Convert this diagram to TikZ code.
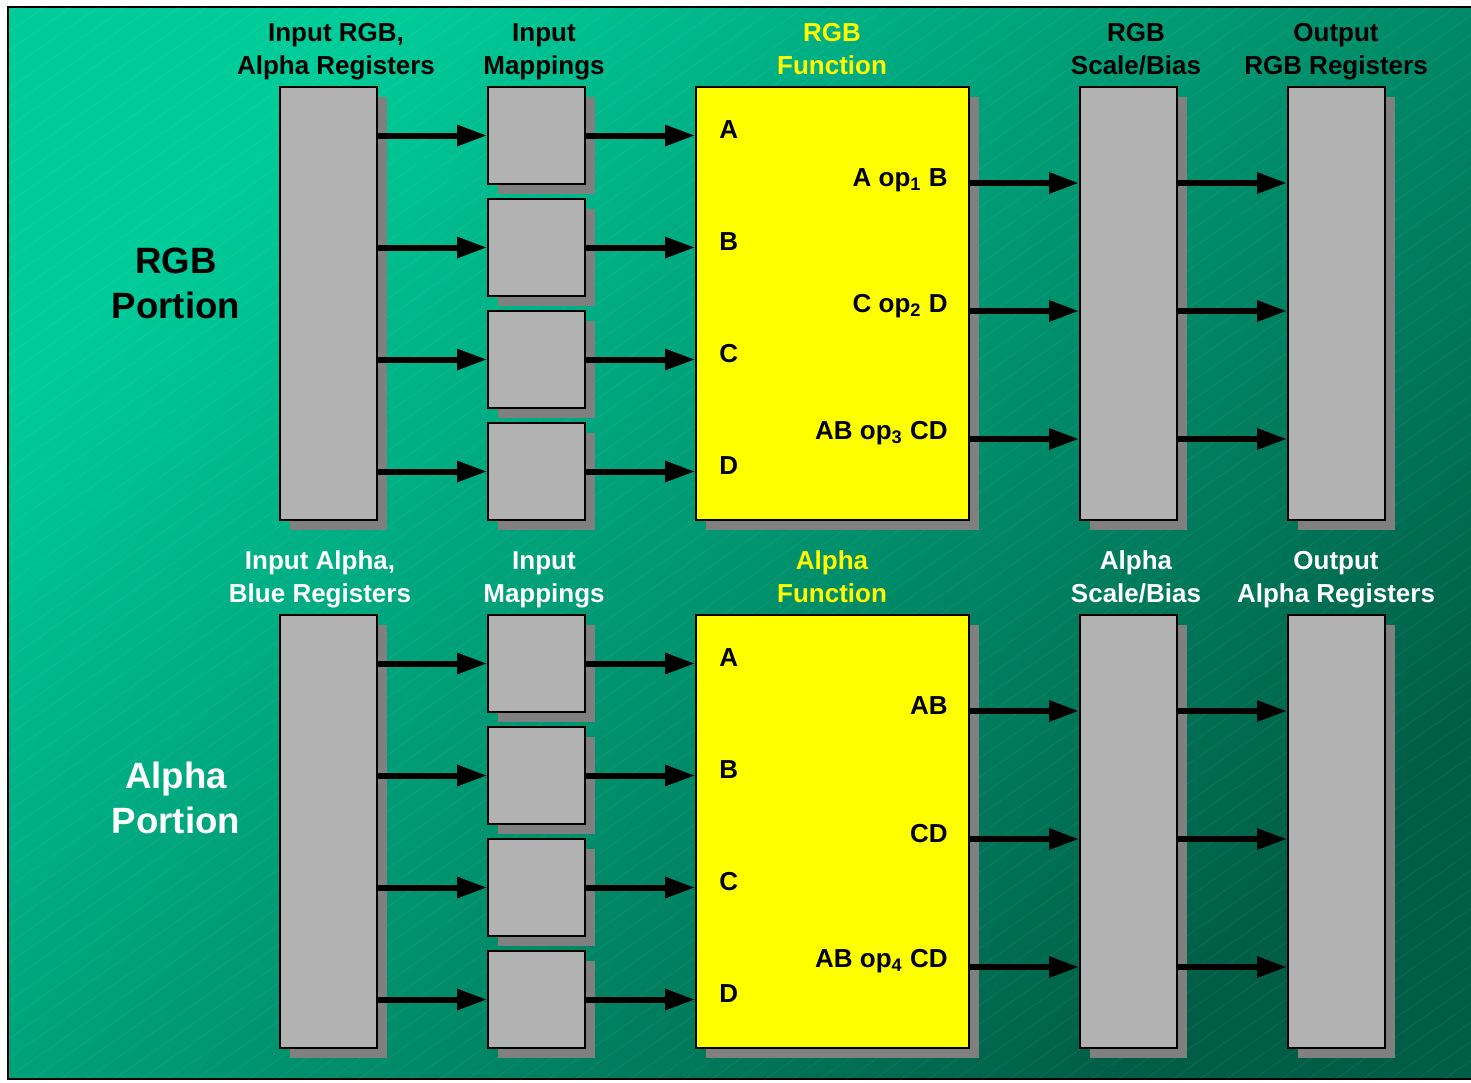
\documentclass[tikz,border=0pt]{standalone}
\usepackage{fontspec}
\setmainfont{Liberation Sans}
\usetikzlibrary{arrows.meta,positioning,shadows}

\definecolor{bgtop}{RGB}{0,204,154}
\definecolor{bgbot}{RGB}{0,94,70}
\definecolor{boxgray}{RGB}{178,178,178}
\definecolor{shadegray}{RGB}{128,128,128}
\definecolor{fnyellow}{RGB}{255,255,0}

\begin{document}
\begin{tikzpicture}[x=0.5pt, y=-0.5pt,
  box/.style={rectangle, draw, line width=1pt, fill=boxgray, inner sep=0pt,
              drop shadow={shadow xshift=5pt, shadow yshift=-5pt, fill=shadegray, opacity=1}},
  tall/.style={box, minimum width=48.5pt, minimum height=216.5pt},
  mapbox/.style={box, minimum width=48.5pt, minimum height=48.5pt},
  fnbox/.style={box, fill=fnyellow, minimum width=136.5pt, minimum height=216.5pt},
  arr/.style={-{Triangle[length=15pt,width=10pt]}, line width=3pt},
  head/.style={font=\bfseries\fontsize{13}{16.2}\selectfont, align=center, inner sep=0pt},
  portion/.style={font=\bfseries\fontsize{18.3}{22.5}\selectfont, align=center, inner sep=0pt},
  inlbl/.style={font=\bfseries\fontsize{13}{16}\selectfont, inner sep=0pt},
]
\useasboundingbox (0,0) rectangle (1471,1082);
\fill[white] (0,0) rectangle (1471,1082);

% background with faint hatching
\shadedraw[top color=bgtop, bottom color=bgbot, shading angle=45, line width=1pt]
  (8,7) rectangle (1490,1079);
\begin{scope}
  \clip (8,7) rectangle (1490,1079);
  \foreach \k in {0,19,...,2200}
    \draw[white, opacity=0.07, line width=0.3pt] (0,\k) -- (1500,\k-1050);
\end{scope}

% the two portions share one layout
\foreach \s/\dy in {rgb/0, alpha/528} {
  \node[tall] (\s-in) at (328.5,303.5+\dy) {};
  \node[fnbox] (\s-fn) at (832.5,303.5+\dy) {};
  \node[tall] (\s-sb) at (1128.5,303.5+\dy) {};
  \node[tall] (\s-out) at (1336.5,303.5+\dy) {};
  \foreach \i/\l in {1/A,2/B,3/C,4/D} {
    \node[mapbox] (\s-map\i) at (536.5,23.5+112*\i+\dy) {};
    \node[inlbl, anchor=base west] (\s-\l) at (719,26.5+112*\i+\dy) {\l};
    \draw[arr] (\s-in.east |- \s-map\i.west) -- (\s-map\i.west);
    \draw[arr] (\s-map\i.east) -- (\s-fn.west |- \s-map\i.east);
  }
  \foreach \j/\oy in {1/183, 2/311, 3/439} {
    \coordinate (\s-o\j) at (969,\oy+\dy);
    \draw[arr] (\s-o\j) -- (\s-sb.west |- \s-o\j);
    \draw[arr] (\s-sb.east |- \s-o\j) -- (\s-out.west |- \s-o\j);
  }
}

% RGB portion labels
\node[head, anchor=base] (rgb-in-lbl) at (336,74) {Input RGB,\\Alpha Registers};
\node[head, anchor=base] (rgb-map-lbl) at (544,74) {Input\\Mappings};
\node[head, anchor=base, text=fnyellow] (rgb-fn-lbl) at (832,74) {RGB\\Function};
\node[head, anchor=base] (rgb-sb-lbl) at (1136,74) {RGB\\Scale/Bias};
\node[head, anchor=base] (rgb-out-lbl) at (1336,74) {Output\\RGB Registers};
\node[portion, anchor=base] (rgb-portion) at (176,318) {RGB\\Portion};
\node[inlbl, anchor=base east] (rgb-op1) at (948,186) {A op\textsubscript{1} B};
\node[inlbl, anchor=base east] (rgb-op2) at (948,312) {C op\textsubscript{2} D};
\node[inlbl, anchor=base east] (rgb-op3) at (948,439) {AB op\textsubscript{3} CD};

% Alpha portion labels
\node[head, anchor=base, text=white] (alpha-in-lbl) at (320,602) {Input Alpha,\\Blue Registers};
\node[head, anchor=base, text=white] (alpha-map-lbl) at (544,602) {Input\\Mappings};
\node[head, anchor=base, text=fnyellow] (alpha-fn-lbl) at (832,602) {Alpha\\Function};
\node[head, anchor=base, text=white] (alpha-sb-lbl) at (1136,602) {Alpha\\Scale/Bias};
\node[head, anchor=base, text=white] (alpha-out-lbl) at (1336,602) {Output\\Alpha Registers};
\node[portion, anchor=base, text=white] (alpha-portion) at (176,833) {Alpha\\Portion};
\node[inlbl, anchor=base east] (alpha-op1) at (948,714) {AB};
\node[inlbl, anchor=base east] (alpha-op2) at (948,842) {CD};
\node[inlbl, anchor=base east] (alpha-op3) at (948,967) {AB op\textsubscript{4} CD};
\end{tikzpicture}
\end{document}
